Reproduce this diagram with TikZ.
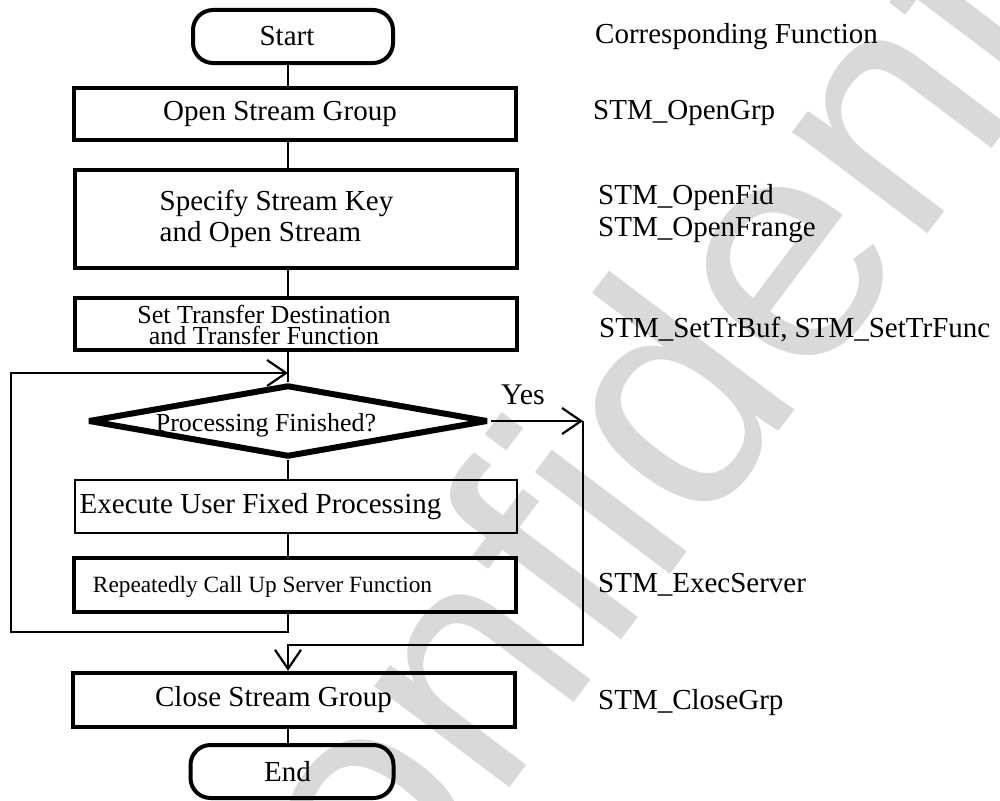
\documentclass[tikz,border=0pt]{standalone}
\usepackage{fontspec}
\setmainfont{Liberation Serif}
\newfontfamily\wmfont{Liberation Sans}
\usetikzlibrary{shapes.geometric,arrows.meta}

\tikzset{
  conn/.style={line width=2pt},
  tip/.style={-{Straight Barb[length=19pt,width=26pt,line width=2.2pt]}},
  termbox/.style={draw, line width=4pt, rounded corners=20pt,
    minimum width=200pt, minimum height=53pt, inner sep=0pt},
  procbox/.style={draw, line width=4.5pt, minimum width=442pt, inner sep=0pt},
  thinbox/.style={draw, line width=2.5pt, minimum width=442pt, inner sep=0pt},
  decbox/.style={draw, diamond, line width=6pt, line join=bevel,
    minimum width=400pt, minimum height=72pt, inner sep=0pt},
  txt/.style={font=\fontsize{29}{31.5}\selectfont, inner sep=0pt},
  smalltxt/.style={font=\fontsize{26}{21}\selectfont, inner sep=0pt},
  tinytxt/.style={font=\fontsize{23.3}{26}\selectfont, inner sep=0pt},
  note/.style={font=\fontsize{29}{32}\selectfont, inner sep=0pt,
    anchor=west, align=left},
  wm/.style={font=\wmfont\fontsize{320}{320}\selectfont, text=black!15,
    inner sep=0pt, rotate=53},
}

\begin{document}
\begin{tikzpicture}[x=1pt,y=-1pt]
\useasboundingbox (0,0) rectangle (1000,800);

% background watermark
\node[wm] (wmark) at (668,388) {Confidential};

% main column
\coordinate (spine) at (288,0);

\node[termbox, label={[txt,xshift=-6pt]center:Start}] (start) at (293,36.5) {};
\node[procbox, minimum height=52pt,
  label={[txt,xshift=-15pt]center:Open Stream Group}] (open) at (295,114) {};
\node[procbox, minimum height=98pt,
  label={[txt,align=left,xshift=-19.5pt]center:Specify Stream Key\\and Open Stream}] (spec) at (296,219) {};
\node[procbox, minimum height=52pt,
  label={[smalltxt,align=center,xshift=-32pt,yshift=-1pt]center:Set Transfer Destination\\and Transfer Function}] (sett) at (296,324) {};
\node[decbox,
  label={[smalltxt,xshift=-22pt,yshift=-4pt]center:Processing Finished?}] (dec) at (288,421) {};
\node[thinbox, minimum height=53pt,
  label={[txt,xshift=-35.5pt]center:Execute User Fixed Processing}] (exec) at (296,506.5) {};
\node[procbox, minimum height=54pt,
  label={[tinytxt,xshift=-32.5pt,yshift=-2pt]center:Repeatedly Call Up Server Function}] (rep) at (295,585) {};
\node[procbox, minimum height=54pt,
  label={[txt,xshift=-20.5pt]center:Close Stream Group}] (close) at (294,700) {};
\node[termbox, minimum width=203pt,
  label={[txt,xshift=-4.5pt]center:End}] (end) at (292,771.5) {};

% straight connectors down the spine
\draw[conn] (start.south -| spine) -- (open.north -| spine);
\draw[conn] (open.south -| spine) -- (spec.north -| spine);
\draw[conn] (spec.south -| spine) -- (sett.north -| spine);
\draw[conn] (sett.south -| spine) -- (dec.north);
\draw[conn] (dec.south) -- (exec.north -| spine);
\draw[conn] (exec.south -| spine) -- (rep.north -| spine);
\draw[conn] (close.south -| spine) -- (end.north -| spine);

% loop back to the decision
\coordinate (loopdown) at (288,632);
\coordinate (loopleft) at (11,632);
\coordinate (looptop) at (11,373);
\coordinate (loopin) at (288,373);
\draw[conn, tip] (rep.south -| spine) -- (loopdown) -- (loopleft) -- (looptop) -- (loopin);

% exit branch
\coordinate (yescorner) at (583,421);
\coordinate (yesdown) at (583,645);
\coordinate (yesjoin) at (288,645);
\draw[conn, tip] (dec.east) -- (yescorner);
\draw[conn, tip] (yescorner) -- (yesdown) -- (yesjoin) -- (close.north -| spine);
\node[font=\fontsize{30}{32}\selectfont, inner sep=0pt] (yes) at (523,395) {Yes};

% function names
\node[note] (hdr) at (595,37) {Corresponding Function};
\node[note] (f1) at (593,113) {STM\_OpenGrp};
\node[note] (f2) at (598,214) {STM\_OpenFid\\STM\_OpenFrange};
\node[note] (f3) at (599,330) {STM\_SetTrBuf, STM\_SetTrFunc};
\node[note] (f4) at (598,585) {STM\_ExecServer};
\node[note] (f5) at (598,703) {STM\_CloseGrp};
\end{tikzpicture}
\end{document}
